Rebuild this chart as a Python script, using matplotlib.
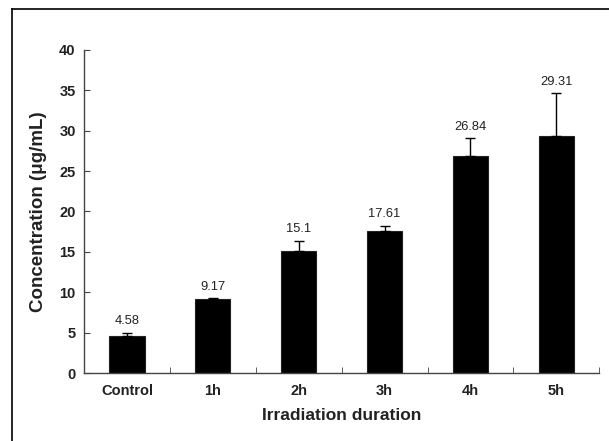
import matplotlib
matplotlib.use("Agg")
import matplotlib.pyplot as plt
import numpy as np
from matplotlib.lines import Line2D

plt.rcParams['font.family'] = ['Liberation Sans', 'DejaVu Sans']

# data
groups = ['Control', '1h', '2h', '3h', '4h', '5h']
conc = [4.58, 9.17, 15.1, 17.61, 26.84, 29.31]
err_up = [0.4, 0.1, 1.3, 0.6, 2.2, 5.3]
value_labels = ['4.58', '9.17', '15.1', '17.61', '26.84', '29.31']

fig = plt.figure(figsize=(6.09, 4.41), dpi=100)
ax = fig.add_axes([0.138, 0.154, 0.846, 0.733])

x = np.arange(len(groups))
ax.bar(x, conc, width=0.41, color='black', edgecolor='#222222', linewidth=0.8, zorder=2)
ax.errorbar(x, conc, yerr=[np.zeros(len(conc)), err_up], fmt='none',
            ecolor='black', elinewidth=1.0, capsize=3.5, capthick=1.0, zorder=3)

for xi, c, e, lab in zip(x, conc, err_up, value_labels):
    ax.annotate(lab, (xi, c + e), xytext=(0, 4), textcoords='offset points',
                ha='center', va='bottom', fontsize=9.3, color='#222222')

ax.set_xlim(-0.5, len(groups) - 0.5)
ax.set_ylim(0, 40)
ax.set_yticks(range(0, 41, 5))
ax.set_xticks(x)
ax.set_xticklabels(groups, fontweight='bold', fontsize=10.5, color='#222222')
for t in ax.get_yticklabels():
    t.set_fontweight('bold')
    t.set_fontsize(10.5)
    t.set_color('#222222')

# category separators on the x axis
ax.set_xticks(np.arange(-0.5, len(groups), 1), minor=True)
ax.tick_params(axis='x', which='major', length=0, pad=8)
ax.tick_params(axis='x', which='minor', direction='in', length=4, color='#444444')
ax.tick_params(axis='y', direction='in', length=4, color='#444444', pad=6)

for s in ['top', 'right']:
    ax.spines[s].set_visible(False)
for s in ['left', 'bottom']:
    ax.spines[s].set_color('#444444')
    ax.spines[s].set_linewidth(1.0)

ax.set_xlabel('Irradiation duration', fontweight='bold', fontsize=12.5, color='#222222', labelpad=7)
ax.set_ylabel('Concentration (μg/mL)', fontweight='bold', fontsize=13.5, color='#222222', labelpad=9)

# outer frame (cut at right and bottom)
fx = 12 / 609
fy = 1 - 9 / 441
fig.add_artist(Line2D([fx, fx], [0, fy], transform=fig.transFigure, color='black', linewidth=1.2))
fig.add_artist(Line2D([fx, 1], [fy, fy], transform=fig.transFigure, color='black', linewidth=1.2))

fig.savefig('out.png', dpi=100)
